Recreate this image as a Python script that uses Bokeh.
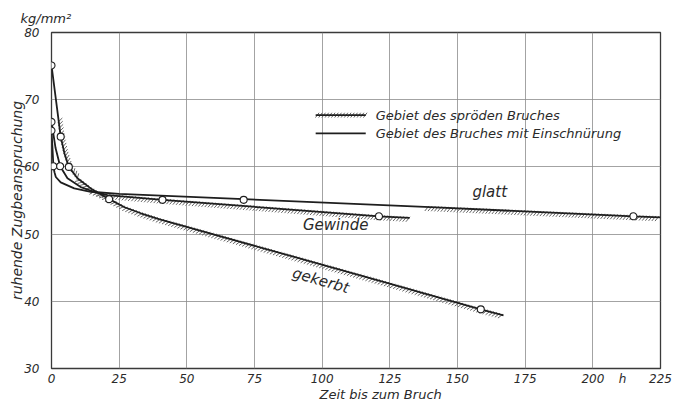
import numpy as np
from bokeh.plotting import figure
from bokeh.models import Range1d, FixedTicker, Title
from bokeh.models import Label
from bokeh.embed import file_html
from bokeh.resources import INLINE

# ---------------- data ----------------
x_ticks = [0, 25, 50, 75, 100, 125, 150, 175, 200, 225]
y_ticks = [30, 40, 50, 60, 70, 80]
unit_tick = 211          # position of the unit "h" among the x tick labels
unit_text = "h"

# curve paths
glatt_x = [0, 0.4, 0.7, 1.1, 1.6, 3.4, 8.4, 14.5, 25, 71, 140, 215, 225]
glatt_y = [65.4, 62.5, 60.1, 59.2, 58.5, 57.7, 56.8, 56.3, 56.0, 55.2, 54.0, 52.65, 52.5]

gewinde_x = [0, 1.5, 3.2, 5.9, 10.8, 15.7, 20.7, 41, 121, 132.3]
gewinde_y = [66.7, 62.8, 60.1, 58.3, 57.0, 56.3, 55.8, 55.1, 52.65, 52.4]

gekerbt_x = [0, 3.4, 4.8, 6.4, 9.6, 14.5, 21.3, 27, 33, 40, 80, 120, 158.6, 167]
gekerbt_y = [75.1, 64.5, 62.0, 60.0, 58.3, 56.8, 55.2, 54.0, 53.1, 52.2, 47.7, 43.2, 38.8, 37.9]

# measured points (circles)
glatt_mx = [0, 0.7, 71, 215]
glatt_my = [65.4, 60.1, 55.1, 52.65]
gewinde_mx = [0, 3.2, 41, 121]
gewinde_my = [66.7, 60.1, 55.1, 52.65]
gekerbt_mx = [0, 3.4, 6.4, 21.3, 158.6]
gekerbt_my = [75.1, 64.5, 60.0, 55.2, 38.8]

# brittle-fracture (hatched) ranges, in hours
glatt_brittle = (138.5, 225)
gewinde_brittle = (15.0, 132.3)
gekerbt_brittle = (2.6, 167)

# ---------------- layout ----------------
FW, FH = 609, 336
XMIN, XMAX, YMIN, YMAX = 0, 225, 30, 80
SX = FW / (XMAX - XMIN)
SY = FH / (YMAX - YMIN)

INK = "#1e1e1e"
HATCH = "#666666"
FONT = "DejaVu Sans"
TXT = "#2a2a2a"


def hatch_segments(xs, ys, xa, xb, step=3.2, back=1.5, fwd=5.0):
    xs = np.asarray(xs, float)
    ys = np.asarray(ys, float)
    px = xs * SX
    py = ys * SY
    seg = np.hypot(np.diff(px), np.diff(py))
    s = np.concatenate([[0.0], np.cumsum(seg)])
    sa = np.interp(xa, xs, s)
    sb = np.interp(xb, xs, s)
    t = np.arange(sa + step / 2, sb, step)
    qx = np.interp(t, s, px)
    qy = np.interp(t, s, py)
    idx = np.clip(np.searchsorted(s, t, side="right") - 1, 0, len(seg) - 1)
    dx = np.diff(px)[idx] / seg[idx]
    dy = np.diff(py)[idx] / seg[idx]
    nx, ny = dy, -dx
    flip = (nx - ny) < 0
    nx = np.where(flip, -nx, nx)
    ny = np.where(flip, -ny, ny)
    sdx = nx * 0.8 - dx * 0.6
    sdy = ny * 0.8 - dy * 0.6
    x0 = (qx - sdx * back) / SX
    y0 = (qy - sdy * back) / SY
    x1 = (qx + sdx * fwd) / SX
    y1 = (qy + sdy * fwd) / SY
    return x0, y0, x1, y1


p = figure(
    frame_width=FW, frame_height=FH,
    x_range=Range1d(XMIN, XMAX), y_range=Range1d(YMIN, YMAX),
    output_backend="svg", toolbar_location=None,
    min_border_left=51, min_border_right=20, min_border_top=32, min_border_bottom=34,
    background_fill_color="white", border_fill_color="white",
)
p.outline_line_color = "#3a3a3a"
p.outline_line_width = 1.3

for ax in (p.xaxis[0], p.yaxis[0]):
    ax.axis_line_color = None
    ax.major_tick_line_color = None
    ax.minor_tick_line_color = None
    ax.major_label_text_font = FONT
    ax.major_label_text_font_style = "italic"
    ax.major_label_text_font_size = "12px"
    ax.major_label_text_color = TXT

p.xaxis.ticker = FixedTicker(ticks=x_ticks + [unit_tick])
p.xaxis.major_label_overrides = {unit_tick: unit_text}
p.yaxis.ticker = FixedTicker(ticks=y_ticks)
p.xaxis.major_label_standoff = -3
p.yaxis.major_label_standoff = 6
p.yaxis.axis_label = "ruhende Zugbeanspruchung"
p.yaxis.axis_label_text_font = FONT
p.yaxis.axis_label_text_font_style = "italic"
p.yaxis.axis_label_text_font_size = "14px"
p.yaxis.axis_label_text_color = TXT
p.yaxis.axis_label_standoff = -4

p.xgrid.ticker = FixedTicker(ticks=x_ticks)
p.ygrid.ticker = FixedTicker(ticks=y_ticks)
p.grid.grid_line_color = "#8c8c8c"
p.grid.grid_line_width = 0.8

# x axis title and unit of the y axis
p.add_layout(Title(text="Zeit bis zum Bruch", align="left", offset=268, standoff=-7,
                   text_font=FONT, text_font_style="italic", text_font_size="13px",
                   text_color=TXT), "below")
p.add_layout(Title(text="kg/mm²", align="left", offset=-31, standoff=14,
                   text_font=FONT, text_font_style="italic", text_font_size="13px",
                   text_color=TXT), "above")

# hatching of brittle regions
for xs, ys, rng in ((glatt_x, glatt_y, glatt_brittle),
                    (gewinde_x, gewinde_y, gewinde_brittle),
                    (gekerbt_x, gekerbt_y, gekerbt_brittle)):
    x0, y0, x1, y1 = hatch_segments(xs, ys, rng[0], rng[1])
    p.segment(x0, y0, x1, y1, line_color=HATCH, line_width=1.0)

# curves
for xs, ys in ((glatt_x, glatt_y), (gewinde_x, gewinde_y), (gekerbt_x, gekerbt_y)):
    p.line(xs, ys, line_color=INK, line_width=1.8)

# circles
for mx, my in ((glatt_mx, glatt_my), (gewinde_mx, gewinde_my), (gekerbt_mx, gekerbt_my)):
    p.scatter(mx, my, marker="circle", size=7, fill_color="white",
              line_color=INK, line_width=1.1)

# legend (drawn by hand)
LX0, LX1 = 97.6, 116.1
LY1, LY2 = 67.7, 65.0
x0, y0, x1, y1 = hatch_segments([LX0, LX1], [LY1, LY1], LX0, LX1, back=3.0, fwd=3.0)
p.segment(x0, y0, x1, y1, line_color=HATCH, line_width=1.0)
p.line([LX0, LX1], [LY1, LY1], line_color=INK, line_width=1.8)
p.line([LX0, LX1], [LY2, LY2], line_color=INK, line_width=1.8)


def lab(x, y, text, size="13px", align="left", angle=0.0):
    p.add_layout(Label(x=x, y=y, text=text, text_font=FONT, text_font_style="italic",
                       text_font_size=size, text_color=TXT, text_align=align,
                       text_baseline="middle", angle=angle))


lab(119.8, LY1, "Gebiet des spröden Bruches")
lab(119.8, LY2, "Gebiet des Bruches mit Einschnürung")

lab(161.9, 56.2, "glatt", size="15px", align="center")
lab(105.0, 51.3, "Gewinde", size="15px", align="center")
lab(99.5, 43.1, "gekerbt", size="15px", align="center", angle=-0.28)

open("out.html", "w").write(file_html(p, INLINE))
